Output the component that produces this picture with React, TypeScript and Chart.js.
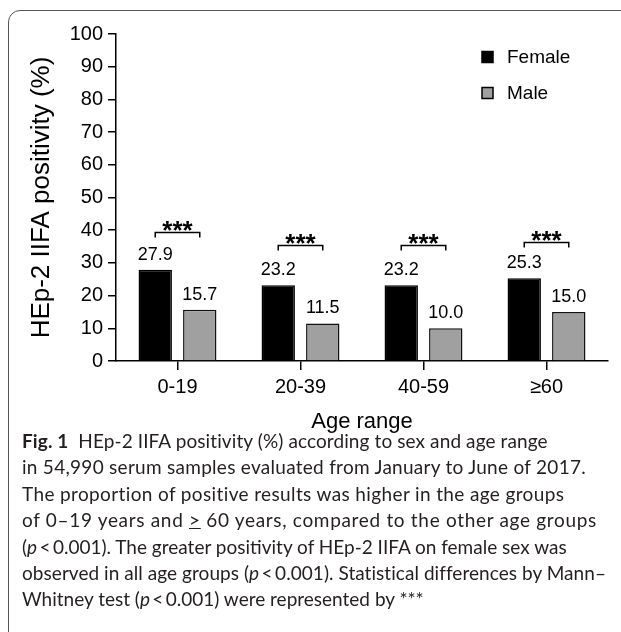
import React, { useEffect, useLayoutEffect, useRef } from "react";
import { Chart, registerables } from "chart.js";

Chart.register(...registerables);

const categories = ["0-19", "20-39", "40-59", "≥60"];
const femaleValues = [27.9, 23.2, 23.2, 25.3];
const maleValues = [15.7, 11.5, 10.0, 15.0];
const bracketLevels = [39.4, 35.5, 35.5, 36.4];
const seriesNames = ["Female", "Male"];
const seriesColors = ["#000000", "#a0a0a0"];
const yTicks = [0, 10, 20, 30, 40, 50, 60, 70, 80, 90, 100];

const FONT = "'Liberation Sans', Arial, sans-serif";

// approximate right ends of the caption lines in the reference
const captionLineEnds = [548, 586, 565, 597, 551, 606, 398];

const annotationPlugin = {
  id: "annot",
  afterDatasetsDraw(chart: any) {
    const ctx = chart.ctx;
    const yScale = chart.scales.y;
    const m0 = chart.getDatasetMeta(0);
    const m1 = chart.getDatasetMeta(1);
    ctx.save();
    ctx.fillStyle = "#000";
    ctx.textAlign = "center";
    ctx.textBaseline = "middle";
    ctx.font = `18px ${FONT}`;
    [m0, m1].forEach((meta: any, di: number) => {
      const vals = di === 0 ? femaleValues : maleValues;
      meta.data.forEach((bar: any, i: number) => {
        ctx.fillText(vals[i].toFixed(1), bar.x, bar.y - 15);
      });
    });
    // brackets
    ctx.strokeStyle = "#000";
    ctx.lineWidth = 1.5;
    categories.forEach((_, i) => {
      const x1 = m0.data[i].x;
      const x2 = m1.data[i].x;
      const y = Math.round(yScale.getPixelForValue(bracketLevels[i])) + 0.5;
      ctx.beginPath();
      ctx.moveTo(x1, y + 5);
      ctx.lineTo(x1, y);
      ctx.lineTo(x2, y);
      ctx.lineTo(x2, y + 5);
      ctx.stroke();
      ctx.textBaseline = "alphabetic";
      ctx.font = `bold 26px ${FONT}`;
      ctx.fillText("***", (x1 + x2) / 2, y + 6);
    });
    // legend
    ctx.textAlign = "left";
    ctx.textBaseline = "middle";
    ctx.font = `19px ${FONT}`;
    seriesNames.forEach((name, i) => {
      const cy = 57 + i * 36;
      ctx.fillStyle = seriesColors[i];
      ctx.fillRect(482, cy - 5.5, 11, 11);
      ctx.strokeStyle = "#000";
      ctx.lineWidth = 1.5;
      ctx.strokeRect(482, cy - 5.5, 11, 11);
      ctx.fillStyle = "#000";
      ctx.fillText(name, 507, cy + 1);
    });
    ctx.restore();
  },
};

export default function App() {
  const ref = useRef<HTMLCanvasElement>(null);
  const lineRefs = useRef<(HTMLSpanElement | null)[]>([]);

  useLayoutEffect(() => {
    lineRefs.current.forEach((el, i) => {
      if (!el) return;
      el.style.letterSpacing = "0px";
      const w = el.getBoundingClientRect().width;
      const target = captionLineEnds[i] - 22;
      const n = (el.textContent || "").length;
      if (n > 1) {
        const ls = Math.max(0, Math.min(0.9, (target - w) / n));
        el.style.letterSpacing = `${ls.toFixed(3)}px`;
      }
    });
  }, []);

  useEffect(() => {
    if (!ref.current) return;
    const chart = new Chart(ref.current, {
      type: "bar",
      data: {
        labels: categories,
        datasets: [
          {
            label: seriesNames[0],
            data: femaleValues,
            backgroundColor: seriesColors[0],
            borderColor: "#000",
            borderWidth: 1.5,
            categoryPercentage: 0.724,
            barPercentage: 0.75,
          },
          {
            label: seriesNames[1],
            data: maleValues,
            backgroundColor: seriesColors[1],
            borderColor: "#111",
            borderWidth: 1.5,
            categoryPercentage: 0.724,
            barPercentage: 0.75,
          },
        ],
      },
      options: {
        animation: false,
        responsive: false,
        maintainAspectRatio: false,
        devicePixelRatio: 1,
        layout: { padding: { left: 0, top: 34, right: 13, bottom: 0 } },
        plugins: { legend: { display: false }, tooltip: { enabled: false } },
        scales: {
          x: {
            afterFit: (s: any) => {
              s.height = 79;
            },
            grid: {
              offset: false,
              drawOnChartArea: false,
              drawTicks: true,
              tickLength: 9,
              color: "#000",
              lineWidth: 1.5,
            },
            border: { display: true, color: "#000", width: 1.5 },
            ticks: { color: "#000", font: { family: FONT, size: 20 }, padding: 5 },
            title: {
              display: true,
              text: "Age range",
              color: "#000",
              font: { family: FONT, size: 22 },
              padding: { top: 0, bottom: 5 },
            },
          },
          y: {
            min: 0,
            max: 100,
            afterFit: (s: any) => {
              s.width = 116;
            },
            afterBuildTicks: (s: any) => {
              s.ticks = yTicks.map((v) => ({ value: v }));
            },
            grid: {
              drawOnChartArea: false,
              drawTicks: true,
              tickLength: 8,
              color: "#000",
              lineWidth: 1.5,
            },
            border: { display: true, color: "#000", width: 1.5 },
            ticks: { color: "#000", font: { family: FONT, size: 20 }, padding: 5 },
            title: {
              display: true,
              text: "HEp-2 IIFA positivity (%)",
              color: "#000",
              font: { family: FONT, size: 26 },
              padding: { top: 26, bottom: 0 },
            },
          },
        },
      },
      plugins: [annotationPlugin],
    });
    return () => chart.destroy();
  }, []);

  const capFont = "Lato, 'Open Sans', sans-serif";
  const lineStyle = (i: number): React.CSSProperties => ({
    position: "absolute",
    left: 22,
    top: 428 + i * 26.4,
    whiteSpace: "nowrap",
    fontFamily: capFont,
    fontSize: 19,
    lineHeight: "26px",
    color: "#231f20",
  });
  const P = () => <i>p</i>;
  const setRef = (i: number) => (el: HTMLSpanElement | null) => {
    lineRefs.current[i] = el;
  };

  return (
    <div style={{ position: "absolute", left: 0, top: 0, width: 621, height: 632, overflow: "hidden", background: "#fff" }}>
      <div
        style={{
          position: "absolute",
          left: 8,
          top: 10,
          width: 800,
          height: 800,
          border: "1.5px solid #555",
          borderTopLeftRadius: 12,
          boxSizing: "border-box",
        }}
      />
      <canvas ref={ref} width={621} height={440} style={{ position: "absolute", left: 0, top: 0, width: 621, height: 440 }} />
      <div style={lineStyle(0)}>
        <span ref={setRef(0)}>
          <b>Fig. 1</b>&nbsp; HEp-2 IIFA positivity (%) according to sex and age range
        </span>
      </div>
      <div style={lineStyle(1)}>
        <span ref={setRef(1)}>in 54,990 serum samples evaluated from January to June of 2017.</span>
      </div>
      <div style={lineStyle(2)}>
        <span ref={setRef(2)}>The proportion of positive results was higher in the age groups</span>
      </div>
      <div style={lineStyle(3)}>
        <span ref={setRef(3)}>
          of 0–19 years and <u>&gt;</u> 60 years, compared to the other age groups
        </span>
      </div>
      <div style={lineStyle(4)}>
        <span ref={setRef(4)}>
          (<P />&thinsp;&lt;&thinsp;0.001). The greater positivity of HEp-2 IIFA on female sex was
        </span>
      </div>
      <div style={lineStyle(5)}>
        <span ref={setRef(5)}>
          observed in all age groups (<P />&thinsp;&lt;&thinsp;0.001). Statistical differences by Mann–
        </span>
      </div>
      <div style={lineStyle(6)}>
        <span ref={setRef(6)}>
          Whitney test (<P />&thinsp;&lt;&thinsp;0.001) were represented by ***
        </span>
      </div>
    </div>
  );
}
